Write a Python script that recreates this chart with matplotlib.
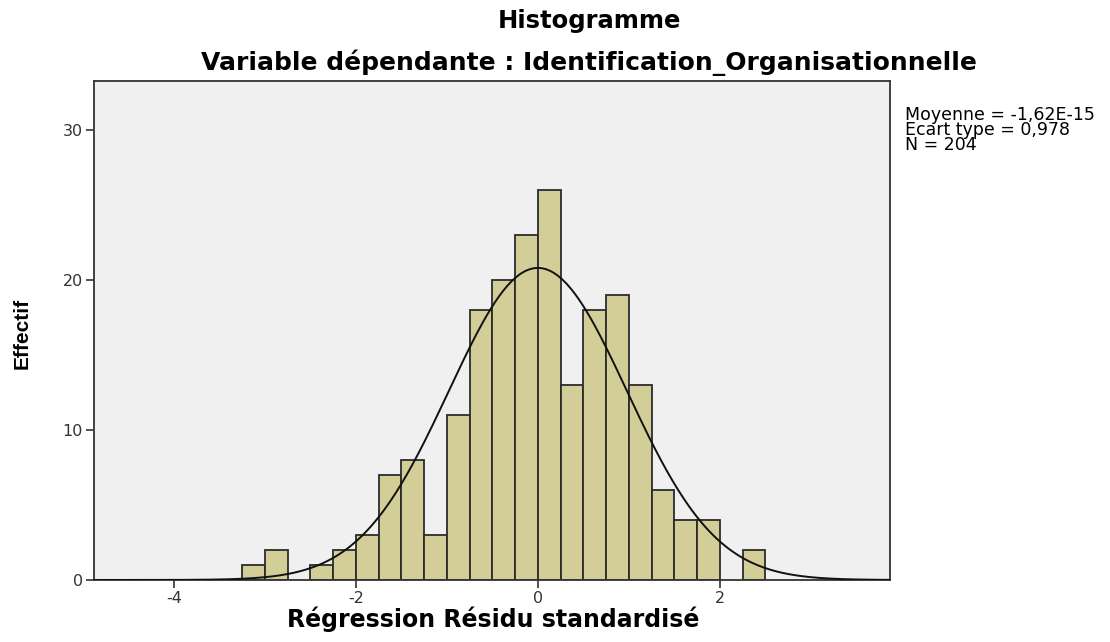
import numpy as np
import matplotlib.pyplot as plt

plt.rcParams['font.family'] = ['DejaVu Sans']
plt.rcParams['axes.unicode_minus'] = False

# bin edges (width 0.25) and counts
bin_left = [-3.25, -3.0, -2.75, -2.5, -2.25, -2.0, -1.75, -1.5, -1.25, -1.0, -0.75,
            -0.5, -0.25, 0.0, 0.25, 0.5, 0.75, 1.0, 1.25, 1.5, 1.75, 2.0, 2.25]
counts = [1, 2, 0, 1, 2, 3, 7, 8, 3, 11, 18,
          20, 23, 26, 13, 18, 19, 13, 6, 4, 4, 0, 2]
bin_width = 0.25

mean = -1.62e-15
sd = 0.978
n = 204

fig = plt.figure(figsize=(11.1, 6.42), dpi=100)
ax = fig.add_axes([0.0847, 0.0966, 0.717, 0.778])
ax.set_facecolor('#f0f0f0')

for x0, c in zip(bin_left, counts):
    if c > 0:
        ax.bar(x0, c, width=bin_width, align='edge', color='#d3ce97',
               edgecolor='#2b2b2b', linewidth=1.3, zorder=2)

# normal curve scaled to counts
xs = np.linspace(-4.88, 3.87, 400)
ys = n * bin_width * np.exp(-0.5 * ((xs - mean) / sd) ** 2) / (sd * np.sqrt(2 * np.pi))
ax.plot(xs, ys, color='#111111', linewidth=1.4, zorder=3)

ax.set_xlim(-4.88, 3.87)
ax.set_ylim(0, 33.3)
ax.set_xticks([-4, -2, 0, 2])
ax.set_yticks([0, 10, 20, 30])
ax.tick_params(direction='out', length=6, width=1.2, labelsize=11.5, colors='#333333', pad=2)
for s in ax.spines.values():
    s.set_linewidth(1.3)
    s.set_color('#333333')

fig.text(0.444, 0.015, 'Régression Résidu standardisé', ha='center', va='bottom',
         fontsize=17, fontweight='bold')
fig.text(0.02, 0.481, 'Effectif', ha='center', va='center', rotation=90,
         fontsize=15, fontweight='heavy', family='Liberation Sans')

fig.text(0.531, 0.968, 'Histogramme', ha='center', va='center', fontsize=17.5, fontweight='bold')
fig.text(0.531, 0.903, 'Variable dépendante : Identification_Organisationnelle',
         ha='center', va='center', fontsize=18, fontweight='bold')

fig.text(0.815, 0.835, 'Moyenne = -1,62E-15\nEcart type = 0,978\nN = 204',
         ha='left', va='top', fontsize=12.5, linespacing=0.8)

fig.savefig('out.png', dpi=100)
